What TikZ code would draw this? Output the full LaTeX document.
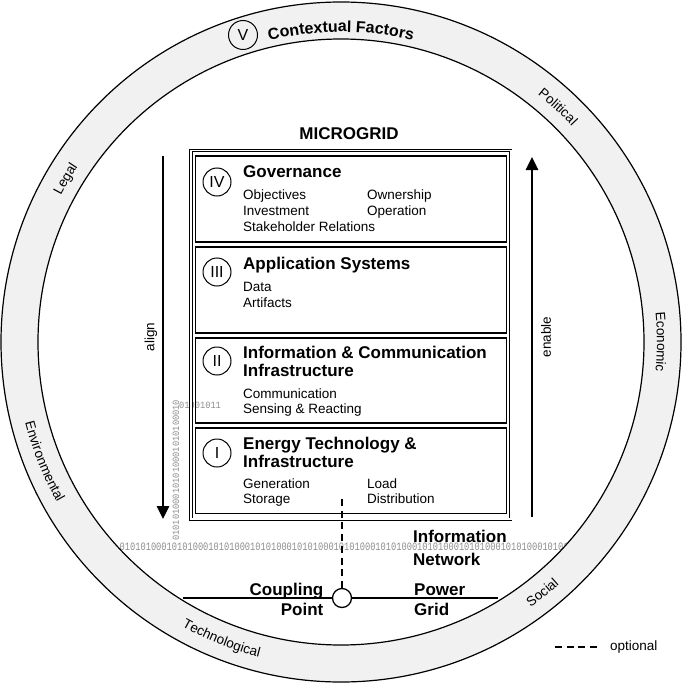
\documentclass[tikz,border=0pt]{standalone}
\usepackage{fontspec}
\setmainfont{Liberation Sans}
\newfontfamily\binfont{Liberation Mono}
\usetikzlibrary{arrows.meta,decorations.text}
\definecolor{ringgray}{HTML}{F1F1F1}
\definecolor{bingray}{HTML}{8C8C8C}
\newcommand\ringfont{\fontsize{13.5}{13.5}\selectfont}
\newcommand\ctxfont{\fontsize{16}{16}\selectfont\bfseries}
\tikzset{
  layerbox/.style={draw, line width=1.3pt, minimum width=311pt, inner sep=0pt},
  numcirc/.style={draw, circle, line width=1pt, minimum size=28pt, inner sep=0pt, font=\fontsize{16}{16}\selectfont},
  ttl/.style={anchor=base west, inner sep=0pt, font=\fontsize{17}{17}\selectfont\bfseries},
  lbl/.style={inner sep=0pt, font=\fontsize{17}{17}\selectfont\bfseries},
  body/.style={anchor=base west, inner sep=0pt, font=\fontsize{13.5}{13.5}\selectfont},
  flowarrow/.style={line width=2.8pt, -{Triangle[length=13pt,width=12pt]}},
  bintext/.style={inner sep=0pt, text=bingray, font=\binfont\fontsize{8.7}{8.7}\selectfont},
  optline/.style={line width=2pt, dash pattern=on 7pt off 4.7pt},
  ringline/.style={line width=1.2pt},
  ringlabel/.style={decorate, decoration={text along path, text align=center, text={#1}}}
}
\begin{document}
\begin{tikzpicture}[x=1pt,y=-1pt]
\useasboundingbox (0,0) rectangle (685,687);

% binary strings (under the ring)
\node[bintext, anchor=west] (binh) at (119.5,546.7) {\scalebox{1}[1.3]{010101000101010001010100010101000101010001010100010101000101010001010100010101000101010001}};
\node[bintext, rotate=90, anchor=west] (binv) at (176,541) {\scalebox{1}[1.1]{010101000101010001010100010}};
\node[bintext, anchor=west] (bins) at (179,405) {\scalebox{1}[1.1]{01001011}};

% context ring
\begin{scope}[shift={(341,342)}, y=1pt]
  \fill[ringgray, even odd rule] (0,0) circle[radius=340] (0,0) circle[radius=303];
  \draw[ringline] (0,0) circle[radius=340] (0,0) circle[radius=303];
  \path[ringlabel={|\ctxfont|Contextual Factors}] (120:310) arc[start angle=120, end angle=60, radius=310];
  \path[ringlabel={|\ringfont|Legal}] (179.4:316) arc[start angle=179.4, end angle=119.4, radius=316];
  \path[ringlabel={|\ringfont|Political}] (77.3:316) arc[start angle=77.3, end angle=17.3, radius=316];
  \path[ringlabel={|\ringfont|Economic}] (30:316) arc[start angle=30, end angle=-30, radius=316];
  \path[ringlabel={|\ringfont|Social}] (-81.2:326) arc[start angle=-81.2, end angle=-21.2, radius=326];
  \path[ringlabel={|\ringfont|Technological}] (218.1:326) arc[start angle=218.1, end angle=278.1, radius=326];
  \path[ringlabel={|\ringfont|Environmental}] (171.9:326) arc[start angle=171.9, end angle=231.9, radius=326];
\end{scope}
\node[numcirc, fill=ringgray, minimum size=29pt] (c5) at (243,35) {V};

% microgrid frame
\node[lbl, anchor=base] (mgl) at (349,140) {MICROGRID};
\node[draw, line width=0.9pt, double, double distance=1.6pt, minimum width=319.75pt, minimum height=368.7pt, inner sep=0pt] (mg) at (350.9,334.85) {};

\node[layerbox, minimum height=86pt] (L4) at (351,199) {};
\node[layerbox, minimum height=86pt] (L3) at (351,290) {};
\node[layerbox, minimum height=85pt] (L2) at (351,380.5) {};
\node[layerbox, minimum height=85.5pt] (L1) at (351,470.75) {};

\node[numcirc] (c4) at (217,182) {IV};
\node[numcirc] (c3) at (217,272) {III};
\node[numcirc] (c2) at (217,361) {II};
\node[numcirc] (c1) at (217,453) {I};

\node[ttl] (t4) at (243,178) {Governance};
\node[body] (b4a) at (243,199.3) {Objectives};
\node[body] (b4b) at (367,199.3) {Ownership};
\node[body] (b4c) at (243,215) {Investment};
\node[body] (b4d) at (367,215) {Operation};
\node[body] (b4e) at (243,231) {Stakeholder Relations};

\node[ttl] (t3) at (243,269) {Application Systems};
\node[body] (b3a) at (243,291) {Data};
\node[body] (b3b) at (243,307) {Artifacts};

\node[ttl] (t2a) at (243,358) {Information \& Communication};
\node[ttl] (t2b) at (243,376) {Infrastructure};
\node[body] (b2a) at (243,398) {Communication};
\node[body] (b2b) at (243,413) {Sensing \& Reacting};

\node[ttl] (t1a) at (243,449.5) {Energy Technology \&};
\node[ttl] (t1b) at (243,467) {Infrastructure};
\node[body] (b1a) at (243,488.5) {Generation};
\node[body] (b1b) at (367,488.5) {Load};
\node[body] (b1c) at (243,503) {Storage};
\node[body] (b1d) at (367,503) {Distribution};

% align / enable arrows
\coordinate (alt) at (163,156);
\coordinate (alb) at (163,519);
\draw[flowarrow] (alt) -- (alb);
\node[rotate=90, inner sep=0pt, font=\ringfont] (aln) at (151,337) {align};
\coordinate (ent) at (532,157);
\coordinate (enb) at (532,517);
\draw[flowarrow] (enb) -- (ent);
\node[rotate=90, inner sep=0pt, font=\ringfont] (enl) at (546,337) {enable};

% networks
\node[lbl, anchor=base west] (inf1) at (413,542) {Information};
\node[lbl, anchor=base west] (inf2) at (413,565) {Network};

\node[draw, circle, line width=1.3pt, minimum size=19pt, inner sep=0pt, fill=white] (cp) at (342,598) {};
\coordinate (pl) at (183,598);
\coordinate (pr) at (498,598);
\draw[line width=1.3pt] (pl) -- (cp.west);
\draw[line width=1.3pt] (cp.east) -- (pr);
\coordinate (ds) at (342,499);
\draw[optline] (ds) -- (cp.north);

\node[lbl, anchor=base east] (cpl1) at (323.5,595) {Coupling};
\node[lbl, anchor=base east] (cpl2) at (323.5,615) {Point};
\node[lbl, anchor=base west] (pg1) at (414,595) {Power};
\node[lbl, anchor=base west] (pg2) at (414,615) {Grid};

% legend
\coordinate (lg1) at (555,647);
\coordinate (lg2) at (597,647);
\draw[optline] (lg1) -- (lg2);
\node[body] (lgt) at (610,650) {optional};
\end{tikzpicture}
\end{document}
